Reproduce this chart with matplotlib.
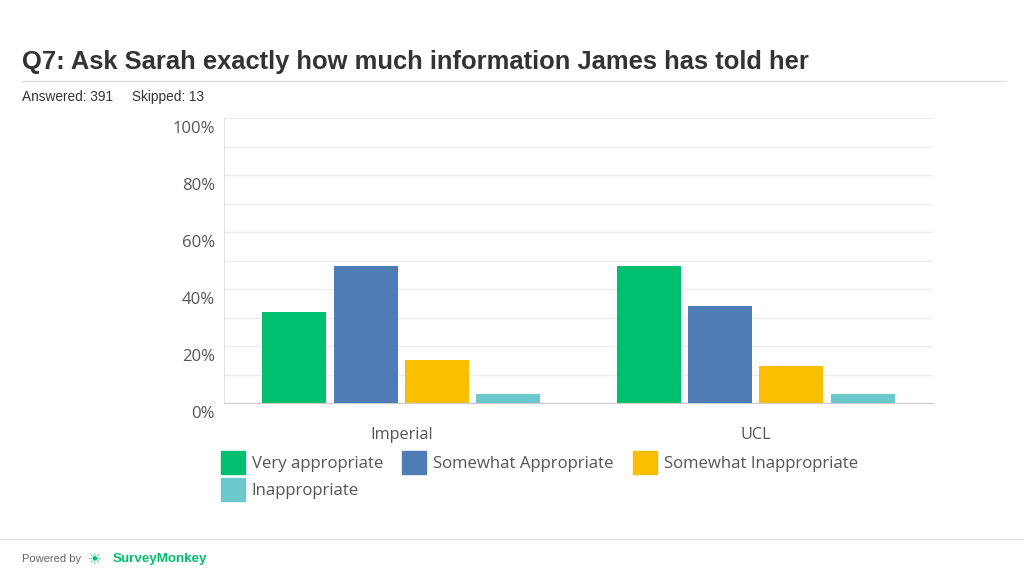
import matplotlib
matplotlib.use("Agg")
import matplotlib.pyplot as plt
import matplotlib.transforms as mtransforms
from matplotlib.patches import Patch
from matplotlib.lines import Line2D
import numpy as np

# ---- data ----
categories = ["Imperial", "UCL"]
series_names = ["Very appropriate", "Somewhat Appropriate",
                "Somewhat Inappropriate", "Inappropriate"]
very_appropriate = [32.1, 48.2]
somewhat_appropriate = [48.2, 34.1]
somewhat_inappropriate = [15.2, 13.1]
inappropriate = [3.2, 3.2]
series_values = [very_appropriate, somewhat_appropriate,
                 somewhat_inappropriate, inappropriate]
colors = ["#00BF6F", "#507CB6", "#F9BE00", "#6BC8CD"]
ytick_values = [0, 20, 40, 60, 80, 100]
ytick_labels = ["0%", "20%", "40%", "60%", "80%", "100%"]

W, H = 1024, 576
fig = plt.figure(figsize=(W / 100, H / 100), dpi=100)
fig.patch.set_facecolor("white")

def fx(px):
    return px / W

def fy(py):
    return 1 - py / H

# header
fig.text(fx(22), fy(62), "Q7: Ask Sarah exactly how much information James has told her",
         family="Liberation Sans", fontweight="bold", fontsize=18.4, color="#333333",
         va="center", ha="left")
fig.add_artist(Line2D([fx(22), fx(1006)], [fy(81), fy(81)], color="#dddddd", lw=1))
fig.text(fx(22), fy(97), "Answered: 391", family="Liberation Sans", fontsize=9.8,
         color="#333333", va="center", ha="left")
fig.text(fx(132), fy(97), "Skipped: 13", family="Liberation Sans", fontsize=9.8,
         color="#333333", va="center", ha="left")

# axes
ax = fig.add_axes([fx(224), fy(403.3), fx(933) - fx(224), fy(118.3) - fy(403.3)])
x = np.arange(len(categories))
step = 0.201
width = 0.18
for i, (vals, c) in enumerate(zip(series_values, colors)):
    ax.bar(x + (i - 1.5) * step, vals, width=width, color=c, zorder=3)

ax.set_xlim(-0.5, 1.5)
ax.set_ylim(0, 100)
ax.set_yticks(ytick_values)
ax.set_yticklabels(ytick_labels)
ax.set_yticks(np.arange(0, 101, 10), minor=True)
ax.yaxis.grid(True, which="both", color="#ececec", lw=1, zorder=0)
ax.tick_params(axis="y", which="both", length=0, pad=6.5, labelsize=12, labelcolor="#555555")
for lab in ax.get_yticklabels():
    lab.set_family("Open Sans")
    lab.set_transform(lab.get_transform() + mtransforms.ScaledTranslation(0, -8.5 / 100, fig.dpi_scale_trans))
ax.set_xticks(x)
ax.set_xticklabels(categories, family="Open Sans", fontsize=11.7, color="#555555")
ax.tick_params(axis="x", length=0, pad=17)
for s in ["top", "right"]:
    ax.spines[s].set_visible(False)
ax.spines["left"].set_color("#e3e3e3")
ax.spines["bottom"].set_color("#cccccc")
ax.set_axisbelow(True)

# legend (row-wise order for ncol=3)
order = [0, 3, 1, 2]
handles = [Patch(color=colors[i]) for i in order]
labels = [series_names[i] for i in order]
leg = fig.legend(handles, labels, loc="upper left",
                 bbox_to_anchor=(fx(221), fy(451)), ncol=3, frameon=False,
                 prop={"family": "Open Sans", "size": 12.1},
                 handlelength=1.43, handleheight=1.69, handletextpad=0.4,
                 columnspacing=1.15, labelspacing=0.28, borderaxespad=0, borderpad=0)
for t in leg.get_texts():
    t.set_color("#555555")

# footer
fig.add_artist(Line2D([0, 1], [fy(539), fy(539)], color="#dddddd", lw=1))
fig.text(fx(22), fy(559), "Powered by", family="Liberation Sans", fontsize=8,
         color="#666666", va="center", ha="left")
fig.text(fx(88), fy(559), "\u2600", family="DejaVu Sans", fontsize=11,
         color="#00BF6F", va="center", ha="left")
fig.text(fx(113), fy(559), "SurveyMonkey", family="Liberation Sans", fontweight="bold",
         fontsize=9.6, color="#00BF6F", va="center", ha="left")

fig.savefig("out.png", dpi=100, facecolor="white")
